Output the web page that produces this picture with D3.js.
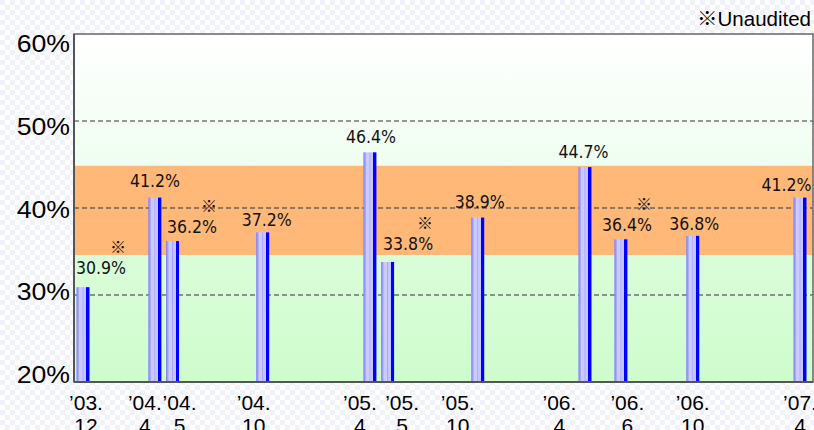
<!DOCTYPE html>
<html>
<head>
<meta charset="utf-8">
<script src="https://cdn.jsdelivr.net/npm/d3@7"></script>
<style>
  html, body { margin: 0; padding: 0; background: #ffffff; }
  svg { display: block; }
</style>
</head>
<body>
<svg id="chart" width="814" height="430"></svg>
<script>
// Period (year-month), label lines and ratio for each reported period
const periods = ["2003-12", "2004-04", "2004-05", "2004-10", "2005-04", "2005-05",
                 "2005-10", "2006-04", "2006-06", "2006-10", "2007-04"];
const periodLabels = [["’03.", "12"], ["’04.", "4"], ["’04.", "5"], ["’04.", "10"],
                      ["’05.", "4"], ["’05.", "5"], ["’05.", "10"], ["’06.", "4"],
                      ["’06.", "6"], ["’06.", "10"], ["’07.", "4"]];
const ratios = [30.9, 41.2, 36.2, 37.2, 46.4, 33.8, 38.9, 44.7, 36.4, 36.8, 41.2];
const unaudited = [true, false, true, false, false, true, false, false, true, false, false];
const yTicks = [20, 30, 40, 50, 60];
const gridValues = [30, 40, 50];
const targetRange = [34.6, 44.85];
const noteText = "※Unaudited";

// Layout
const plot = { left: 74, top: 34, right: 813, bottom: 382 };
const barWidth = 13;
// Per-label placement tweaks: [dx from bar centre, gap above bar top]
const valueLabelNudge = [[18, 13.5], [0, 10.5], [19.5, 8.5], [4, 6.5], [1, 9], [20.5, 12],
                         [2, 9.3], [-1.5, 8.8], [6, 8.3], [1.5, 5.5], [-13.5, 6.8]];
const periodLabelNudge = [3, -10, 7, -9, -10, 14.5, -20, -25.5, 6.5, 0, 0];

const parseMonth = d3.timeParse("%Y-%m");
const dates = periods.map(parseMonth);

const svg = d3.select("#chart");
const defs = svg.append("defs");

// faint checkered page background
const pat = defs.append("pattern").attr("id", "checker")
  .attr("width", 10).attr("height", 10).attr("patternUnits", "userSpaceOnUse");
pat.append("rect").attr("width", 10).attr("height", 10).attr("fill", "#ffffff");
pat.append("rect").attr("width", 5).attr("height", 5).attr("fill", "#f1f1fb");
pat.append("rect").attr("x", 5).attr("y", 5).attr("width", 5).attr("height", 5).attr("fill", "#f1f1fb");
svg.append("rect").attr("width", 814).attr("height", 430).attr("fill", "url(#checker)");

// plot background: white fading to pale green
const bg = defs.append("linearGradient").attr("id", "plotBg")
  .attr("x1", 0).attr("y1", 0).attr("x2", 0).attr("y2", 1);
[["0%", "#ffffff"], ["38%", "#effef0"], ["64%", "#dafdd9"], ["100%", "#cefccd"]]
  .forEach(([o, c]) => bg.append("stop").attr("offset", o).attr("stop-color", c));

// bar fill: light cylinder shading with a solid blue right edge
const barGrad = defs.append("linearGradient").attr("id", "barFill")
  .attr("x1", 0).attr("y1", 0).attr("x2", 1).attr("y2", 0);
[["0%", "#7a7aff"], ["16%", "#a8a8ff"], ["22%", "#cacaff"], ["44%", "#cacaff"],
 ["50%", "#a4a4ff"], ["56%", "#c6c6ff"], ["74%", "#c6c6ff"], ["75%", "#0000ff"],
 ["100%", "#0000ff"]].forEach(([o, c]) =>
  barGrad.append("stop").attr("offset", o).attr("stop-color", c));

const x = d3.scaleTime()
  .domain([dates[0], dates[dates.length - 1]])
  .range([83, 800]);
const y = d3.scaleLinear().domain([20, 60]).range([plot.bottom, plot.top]);
// axis text sits on a slightly tighter spacing than the gridlines
const yText = d3.scaleLinear().domain([20, 60]).range([383.3, 51.7]);

const pw = plot.right - plot.left;

svg.append("rect")
  .attr("x", plot.left).attr("y", plot.top)
  .attr("width", pw).attr("height", plot.bottom - plot.top)
  .attr("fill", "url(#plotBg)");

// target range band
svg.append("rect")
  .attr("x", plot.left).attr("y", y(targetRange[1]))
  .attr("width", pw).attr("height", y(targetRange[0]) - y(targetRange[1]))
  .attr("fill", "#ffb878");

// dashed gridlines
svg.append("g").selectAll("line").data(gridValues).join("line")
  .attr("x1", plot.left).attr("x2", plot.right)
  .attr("y1", d => y(d)).attr("y2", d => y(d))
  .attr("stroke", "#333").attr("stroke-width", 1)
  .attr("stroke-dasharray", "5,3");

// bars
const rows = ratios.map((v, i) => ({ v, i, date: dates[i], note: unaudited[i] }));
svg.append("g").selectAll("rect").data(rows).join("rect")
  .attr("x", d => x(d.date) - barWidth / 2)
  .attr("y", d => y(d.v))
  .attr("width", barWidth)
  .attr("height", d => y(20) - y(d.v))
  .attr("fill", "url(#barFill)");

// frame
svg.append("rect")
  .attr("x", plot.left).attr("y", plot.top)
  .attr("width", pw).attr("height", plot.bottom - plot.top)
  .attr("fill", "none").attr("stroke", "#666").attr("stroke-width", 1.5);
svg.append("line")
  .attr("x1", plot.left).attr("x2", plot.left)
  .attr("y1", plot.top).attr("y2", plot.bottom)
  .attr("stroke", "#555").attr("stroke-width", 2);
svg.append("line")
  .attr("x1", plot.left).attr("x2", plot.right)
  .attr("y1", plot.bottom).attr("y2", plot.bottom)
  .attr("stroke", "#555").attr("stroke-width", 2);

// value labels
const labelFont = "'DejaVu Sans Condensed', 'DejaVu Sans', sans-serif";
const labels = svg.append("g").selectAll("g").data(rows).join("g")
  .attr("transform", d => {
    const [dx, gap] = valueLabelNudge[d.i];
    return `translate(${x(d.date) + dx},${y(d.v) - gap})`;
  });
labels.append("text")
  .attr("text-anchor", "middle")
  .attr("font-family", labelFont)
  .attr("font-size", 17.5)
  .attr("font-stretch", "condensed")
  .attr("fill", "#111")
  .text(d => d.v.toFixed(1) + "%");
labels.filter(d => d.note).append("text")
  .attr("x", 17).attr("y", -21)
  .attr("text-anchor", "middle")
  .attr("font-family", "'Noto Sans CJK JP', sans-serif")
  .attr("font-size", 16)
  .attr("fill", "#111")
  .text("※");

// y axis labels, drawn slightly wide
svg.append("g").selectAll("text").data(yTicks).join("text")
  .attr("transform", d => `translate(70,${yText(d)}) scale(1.16,1)`)
  .attr("text-anchor", "end")
  .attr("font-family", "'Liberation Sans', Arial, sans-serif")
  .attr("font-size", 23)
  .attr("fill", "#000")
  .text(d => d + "%");

// period labels (two lines)
const ticks = svg.append("g").selectAll("text").data(rows).join("text")
  .attr("text-anchor", "middle")
  .attr("font-family", "'Liberation Sans', Arial, sans-serif")
  .attr("font-size", 21)
  .attr("fill", "#000");
ticks.append("tspan")
  .attr("x", d => x(d.date) + periodLabelNudge[d.i]).attr("y", 410)
  .text(d => periodLabels[d.i][0]);
ticks.append("tspan")
  .attr("x", d => x(d.date) + periodLabelNudge[d.i]).attr("y", 433)
  .text(d => periodLabels[d.i][1]);

// footnote
svg.append("text")
  .attr("x", 811).attr("y", 26)
  .attr("text-anchor", "end")
  .attr("font-family", "'Liberation Sans', Arial, 'Noto Sans CJK JP', sans-serif")
  .attr("font-size", 20.5)
  .attr("fill", "#000")
  .text(noteText);
</script>
</body>
</html>
